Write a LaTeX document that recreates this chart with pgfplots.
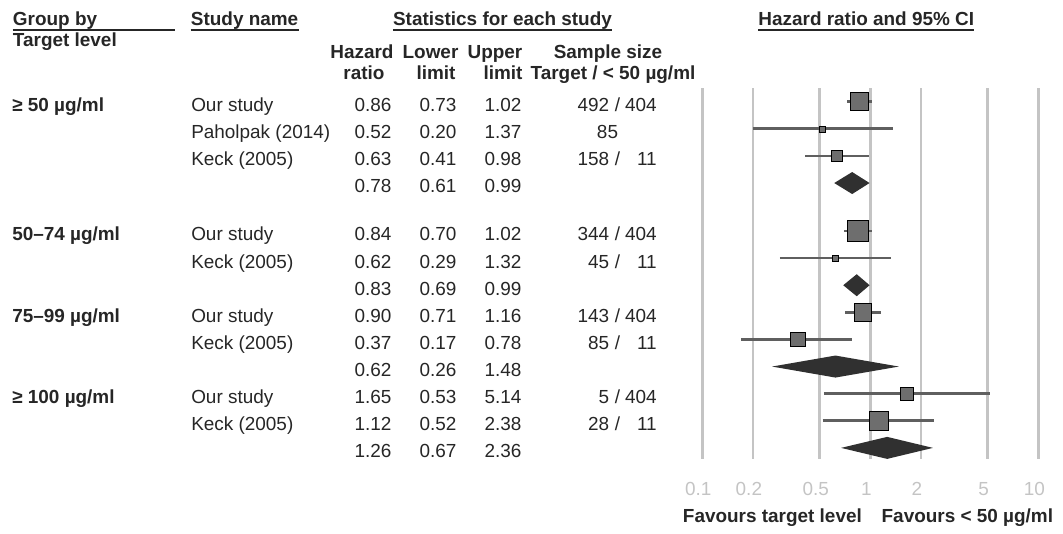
\documentclass[border=0pt]{standalone}
\usepackage{pgfplots}
\pgfplotsset{compat=1.18}
\usepackage{pgfplotstable}
\usepackage{fontspec}
\setmainfont{Liberation Sans}
\usetikzlibrary{calc}

\definecolor{txt}{HTML}{262626}
\definecolor{gridcol}{HTML}{C4C4C4}
\definecolor{tickcol}{HTML}{C4C4C4}
\definecolor{sqcol}{HTML}{6E6E6E}
\definecolor{lncol}{HTML}{5F5F5F}
\definecolor{dmcol}{HTML}{303030}

% individual studies: row, estimate, square side (px)
\pgfplotstableread{
y      est   side
0      0.86  18
1      0.52  6
2      0.63  11.5
4.77   0.84  21.5
5.77   0.62  6
7.77   0.90  17.5
8.77   0.37  14.5
10.77  1.65  12.5
11.77  1.12  18.5
}\studies

% 95% CI segments (lower, upper) of each study
\pgfplotstableread{
x     y
0.73  0
1.02  0
nan   nan
0.20  1
1.37  1
nan   nan
0.41  2
0.98  2
nan   nan
0.70  4.77
1.02  4.77
nan   nan
0.29  5.77
1.32  5.77
nan   nan
0.71  7.77
1.16  7.77
nan   nan
0.17  8.77
0.78  8.77
nan   nan
0.53  10.77
5.14  10.77
nan   nan
0.52  11.77
2.38  11.77
}\cis

\newcommand\fs{\fontsize{14.2}{17}\selectfont}
\newcommand\TL[3]{\node[anchor=base west,inner sep=0pt,text=txt,font=\fs] at (#1,#2) {#3};}
\newcommand\TR[3]{\node[anchor=base east,inner sep=0pt,text=txt,font=\fs] at (#1,#2) {#3};}
\newcommand\TC[3]{\node[anchor=base,inner sep=0pt,text=txt,font=\fs] at (#1,#2) {#3};}
\newcommand\BL[3]{\node[anchor=base west,inner sep=0pt,text=txt,font=\fs\bfseries] at (#1,#2) {#3};}
\newcommand\BC[3]{\node[anchor=base,inner sep=0pt,text=txt,font=\fs\bfseries] at (#1,#2) {#3};}
\newcommand\BR[3]{\node[anchor=base east,inner sep=0pt,text=txt,font=\fs\bfseries] at (#1,#2) {#3};}
% row: baseline y, hr, lo, hi
\newcommand\Row[4]{\TR{391.7}{#1}{#2}\TR{456.7}{#1}{#3}\TR{521.7}{#1}{#4}}
\newcommand\Samp[3]{\TR{609.5}{#1}{#2}\TC{617.5}{#1}{/}\TR{657}{#1}{#3}}

\begin{document}
\begin{tikzpicture}[x=0.75pt,y=-0.75pt]
\path[use as bounding box] (0,0) rectangle (1063,534);

\begin{axis}[
  at={(526.725pt,-344.25pt)}, anchor=south west,
  scale only axis, width=252pt, height=278.25pt,
  xmode=log, xmin=0.1, xmax=10,
  ymin=-0.505, ymax=13.18, y dir=reverse,
  axis line style={draw=none},
  xtick={0.1,0.2,0.5,1,2,5,10},
  xticklabels={0.1,0.2,0.5,1,2,5,10},
  xmajorgrids, grid style={draw=gridcol, line width=2pt},
  major tick length=0pt,
  ytick=\empty,
  xticklabel style={font=\fs, text=tickcol, anchor=base, yshift=-27pt, xshift=-3pt},
  clip=false,
  unbounded coords=jump,
]
% confidence intervals
\addplot[lncol, line width=2pt, mark=none, forget plot] table[x=x, y=y] {\cis};
% weighted squares
\addplot[scatter, only marks, mark=square*,
  scatter/use mapped color={draw=none, fill=sqcol},
  visualization depends on={\thisrow{side} \as \side},
  scatter/@pre marker code/.append style={/tikz/mark size=0.375*\side}]
  table[x=est, y=y] {\studies};
% pooled diamonds
\addplot[fill=dmcol, draw=none] coordinates {(0.61,3) (0.78,2.594) (0.99,3) (0.78,3.406)} -- cycle;
\addplot[fill=dmcol, draw=none] coordinates {(0.69,6.77) (0.83,6.364) (0.99,6.77) (0.83,7.176)} -- cycle;
\addplot[fill=dmcol, draw=none] coordinates {(0.26,9.77) (0.62,9.364) (1.48,9.77) (0.62,10.176)} -- cycle;
\addplot[fill=dmcol, draw=none] coordinates {(0.67,12.77) (1.26,12.364) (2.36,12.77) (1.26,13.176)} -- cycle;
\end{axis}

% headers
\BL{12.7}{25.3}{Group by}
\draw[txt, line width=1.5pt] (12.7,30.5) -- (175,30.5);
\BL{12.7}{46.5}{Target level}
\BL{190.7}{25.3}{Study name}
\draw[txt, line width=1.5pt] (190.7,30.5) -- (298.5,30.5);
\node[anchor=base,inner sep=0pt,text=txt,font=\fs\bfseries] (S) at (502.5,25.3) {Statistics for each study};
\draw[txt, line width=1.5pt] ($(S.base west)+(0,5.2)$) -- ($(S.base east)+(0,5.2)$);
\node[anchor=base,inner sep=0pt,text=txt,font=\fs\bfseries] (H) at (866.3,25.3) {Hazard ratio and 95\% CI};
\draw[txt, line width=1.5pt] ($(H.base west)+(0,5.2)$) -- ($(H.base east)+(0,5.2)$);

\BC{362}{58.3}{Hazard}
\BC{364}{80}{ratio}
\BC{430.5}{58.3}{Lower}
\BC{436}{80}{limit}
\BC{495}{58.3}{Upper}
\BC{503}{80}{limit}
\BC{608}{58.3}{Sample size}
\BC{613}{80}{Target / < 50 µg/ml}

% group labels
\BL{12}{111.7}{≥ 50 µg/ml}
\BL{12}{241}{50–74 µg/ml}
\BL{12}{322.3}{75–99 µg/ml}
\BL{12}{403.6}{≥ 100 µg/ml}

% study rows
\TL{191}{111.7}{Our study}      \Row{111.7}{0.86}{0.73}{1.02} \Samp{111.7}{492}{404}
\TL{191}{138.8}{Paholpak (2014)}\Row{138.8}{0.52}{0.20}{1.37} \TC{607.5}{138.8}{85}
\TL{191}{165.9}{Keck (2005)}    \Row{165.9}{0.63}{0.41}{0.98} \Samp{165.9}{158}{11}
                                \Row{193.0}{0.78}{0.61}{0.99}
\TL{191}{241.0}{Our study}      \Row{241.0}{0.84}{0.70}{1.02} \Samp{241.0}{344}{404}
\TL{191}{268.1}{Keck (2005)}    \Row{268.1}{0.62}{0.29}{1.32} \Samp{268.1}{45}{11}
                                \Row{295.2}{0.83}{0.69}{0.99}
\TL{191}{322.3}{Our study}      \Row{322.3}{0.90}{0.71}{1.16} \Samp{322.3}{143}{404}
\TL{191}{349.4}{Keck (2005)}    \Row{349.4}{0.37}{0.17}{0.78} \Samp{349.4}{85}{11}
                                \Row{376.5}{0.62}{0.26}{1.48}
\TL{191}{403.6}{Our study}      \Row{403.6}{1.65}{0.53}{5.14} \Samp{403.6}{5}{404}
\TL{191}{430.7}{Keck (2005)}    \Row{430.7}{1.12}{0.52}{2.38} \Samp{430.7}{28}{11}
                                \Row{457.8}{1.26}{0.67}{2.36}

% footer
\BL{682.7}{522}{Favours target level}
\BR{1053.3}{522}{Favours < 50 µg/ml}
\end{tikzpicture}
\end{document}
